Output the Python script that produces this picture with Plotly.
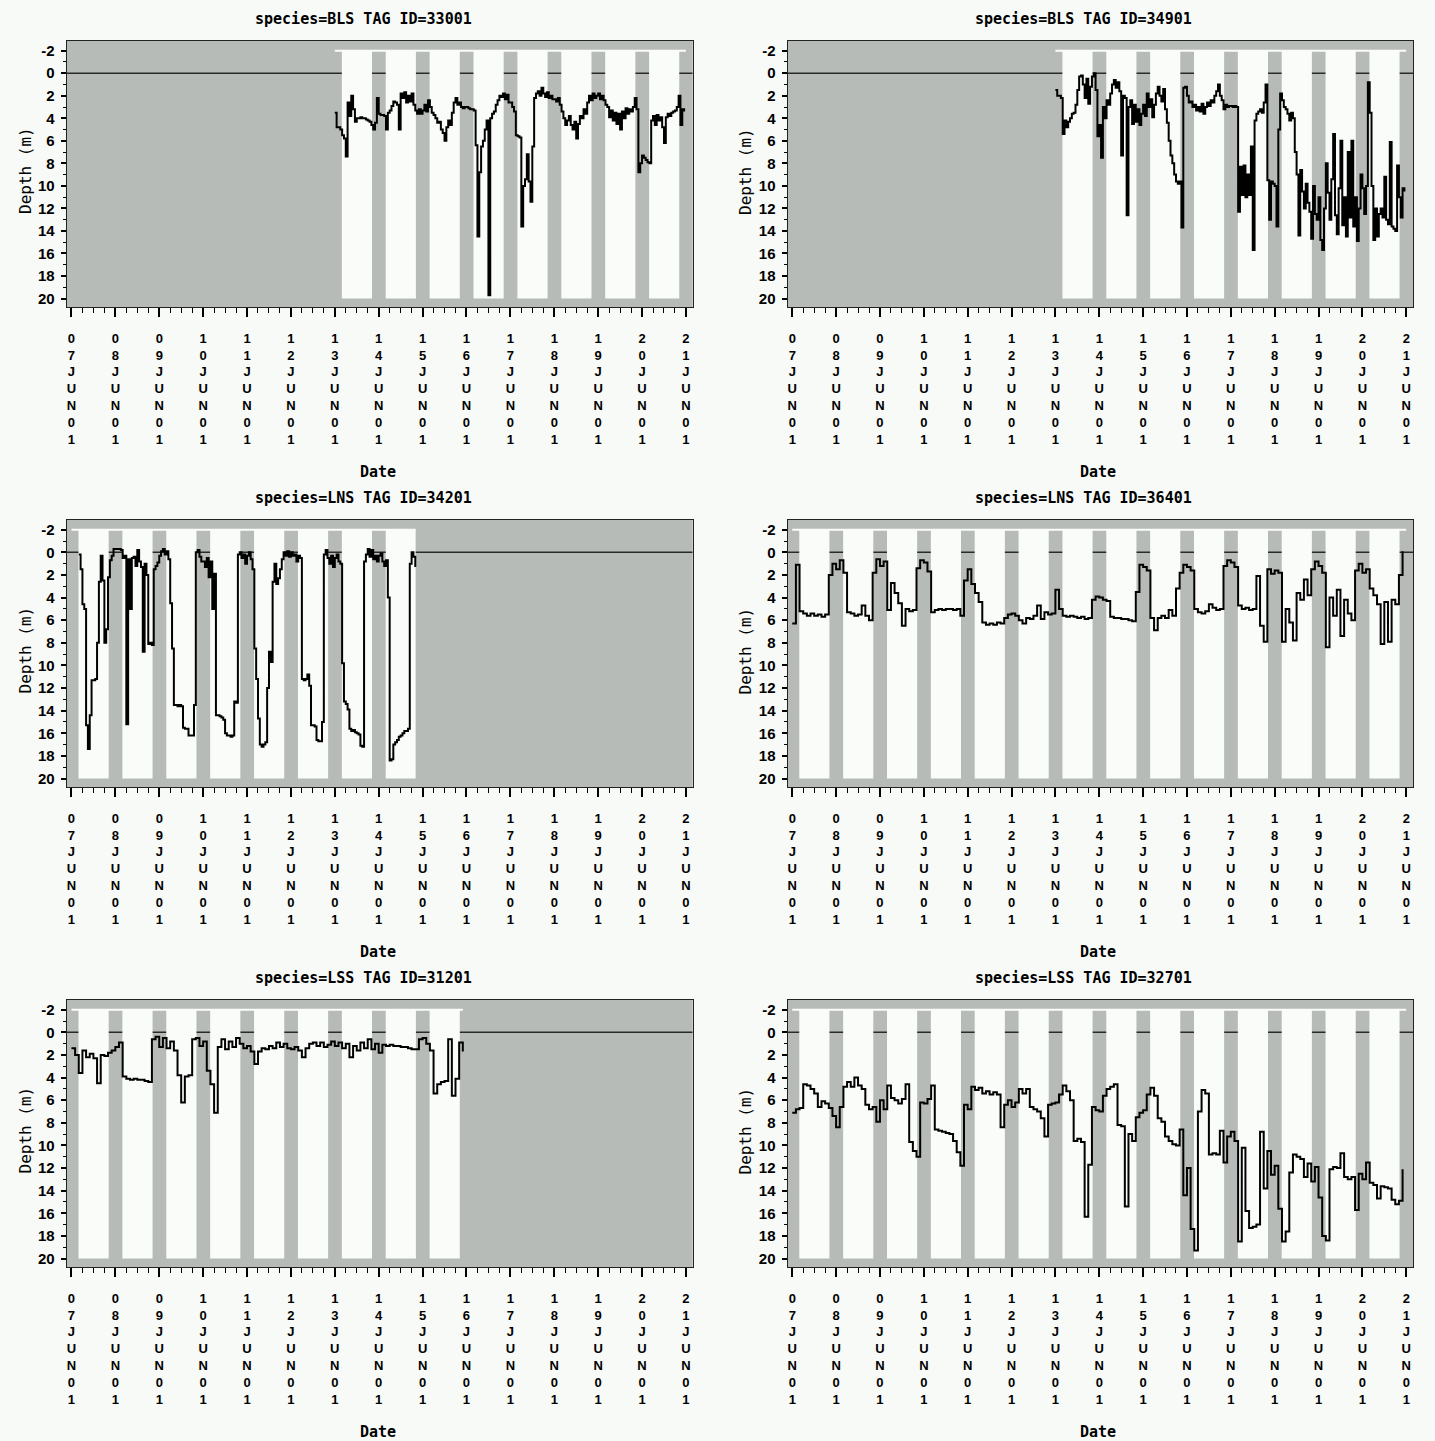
import plotly.graph_objects as go

# ---------------- data ----------------
TITLES = ["species=BLS TAG ID=33001", "species=BLS TAG ID=34901",
          "species=LNS TAG ID=34201", "species=LNS TAG ID=36401",
          "species=LSS TAG ID=31201", "species=LSS TAG ID=32701"]

# hours since 07JUN01 00:00
DATE_TICKS = [0, 24, 48, 72, 96, 120, 144, 168, 192, 216, 240, 264, 288, 312, 336]
DATE_LABELS = ["07JUN01", "08JUN01", "09JUN01", "10JUN01", "11JUN01", "12JUN01", "13JUN01",
               "14JUN01", "15JUN01", "16JUN01", "17JUN01", "18JUN01", "19JUN01", "20JUN01", "21JUN01"]
DEPTH_TICKS = [-2, 0, 2, 4, 6, 8, 10, 12, 14, 16, 18, 20]

# daylight (white) period each day, hours after midnight
DAY_START_H = 3.85
DAY_END_H = 20.35

# tag deployment windows (hours since 07JUN01 00:00)
WIN_33001 = [144, 336]
WIN_34901 = [144, 336]
WIN_34201 = [0, 188.2]
WIN_36401 = [0, 336]
WIN_31201 = [0, 214]
WIN_32701 = [0, 336]

# series: start hour, step (hours), depths (m)
START_33001, STEP_33001 = 144, 1
DEPTH_33001 = [
    3.5, 4.8, 4.8, 5.0, 5.5, 5.8, 7.4, 2.6, 3.8, 2.0, 3.2, 4.3, 4.0, 4.0, 3.9, 4.0, 4.0, 4.1, 4.2, 4.3, 4.6, 5.0, 4.4, 2.2,
    3.6, 3.7, 3.7, 3.8, 5.0, 3.5, 3.3, 2.9, 2.5, 2.6, 2.8, 5.0, 1.8, 2.2, 1.7, 2.6, 2.0, 2.5, 1.8, 2.8, 3.3, 3.6, 3.2, 3.6,
    3.3, 2.8, 3.4, 2.4, 3.0, 3.5, 3.7, 4.0, 4.4, 4.3, 5.0, 5.3, 6.0, 4.8, 4.2, 4.6, 3.5, 2.6, 2.2, 2.8, 2.6, 3.0, 3.1, 3.0,
    3.0, 3.1, 3.2, 3.2, 3.3, 6.4, 14.5, 8.8, 6.5, 6.0, 5.0, 4.2, 19.7, 4.0, 3.6, 3.4, 2.8, 2.4, 2.0, 2.1, 1.8, 2.3, 1.9, 2.6,
    2.6, 3.0, 3.4, 5.5, 5.6, 5.7, 13.6, 10.0, 9.4, 7.2, 9.6, 11.4, 6.5, 2.2, 1.8, 1.6, 2.0, 1.3, 1.8, 2.1, 1.7, 2.2, 2.0, 2.3,
    2.3, 2.5, 2.2, 2.8, 3.4, 4.0, 4.6, 4.2, 3.8, 4.6, 5.0, 4.3, 5.8, 4.5, 3.8, 4.0, 3.2, 3.6, 2.6, 2.0, 2.4, 1.8, 2.2, 2.0,
    1.8, 2.3, 2.0, 2.4, 2.8, 3.0, 3.9, 3.3, 4.2, 3.5, 4.5, 3.6, 5.0, 3.4, 4.0, 3.1, 3.6, 3.2, 3.4, 3.0, 2.2, 3.2, 8.8, 8.0,
    7.3, 7.5, 7.7, 7.9, 8.0, 4.2, 3.8, 4.6, 3.7, 4.2, 3.9, 4.8, 6.2, 3.9, 3.6, 3.8, 3.5, 3.4, 3.3, 3.0, 2.0, 4.6, 3.2, 3.4,
]

START_34901, STEP_34901 = 144, 1
DEPTH_34901 = [
    1.5, 2.0, 2.0, 2.2, 5.4, 4.2, 4.8, 4.3, 4.0, 3.6, 3.5, 2.8, 1.5, 0.3, 0.2, 1.0, 2.2, 0.5, 2.7, 1.2, 0.3, 0.0, 1.5, 5.6,
    4.6, 7.5, 3.0, 4.0, 2.4, 2.8, 1.8, 1.0, 0.6, 1.3, 0.8, 1.6, 7.3, 2.0, 2.2, 12.6, 3.0, 2.4, 4.5, 2.8, 4.3, 3.2, 4.6, 3.6,
    2.8, 3.8, 1.8, 3.0, 2.3, 3.9, 2.8, 1.8, 1.2, 2.0, 2.5, 1.4, 3.2, 4.4, 6.0, 7.3, 8.0, 9.0, 9.6, 9.8, 9.6, 13.7, 1.3, 1.2,
    2.0, 2.6, 2.5, 3.0, 2.8, 3.3, 3.0, 3.4, 2.7, 3.6, 3.0, 2.6, 2.9, 2.4, 2.6, 2.0, 1.6, 1.0, 2.0, 2.4, 3.2, 2.8, 3.0, 2.9,
    2.9, 3.0, 2.9, 3.0, 12.3, 8.3, 10.8, 8.2, 11.0, 9.0, 10.8, 6.5, 15.7, 4.2, 3.6, 3.4, 3.2, 3.5, 2.6, 1.0, 9.5, 13.0, 9.6, 9.8,
    10.0, 13.6, 5.0, 1.8, 2.4, 3.0, 3.2, 3.6, 4.2, 3.5, 4.0, 7.0, 9.0, 14.4, 8.6, 10.5, 12.0, 9.8, 11.5, 12.3, 14.7, 10.0, 12.5, 13.0,
    11.0, 14.8, 15.7, 12.0, 8.0, 10.6, 13.0, 9.4, 5.4, 12.6, 14.3, 10.2, 6.0, 13.5, 11.0, 14.5, 7.0, 12.8, 6.0, 13.6, 11.0, 14.9, 12.0, 9.0,
    10.2, 12.5, 10.0, 0.8, 3.5, 10.0, 14.8, 12.0, 14.5, 12.5, 12.0, 12.8, 9.2, 13.0, 13.4, 6.1, 13.6, 13.8, 14.0, 8.2, 11.0, 12.8, 10.2, 10.5,
]

START_34201, STEP_34201 = 4, 1
DEPTH_34201 = [
    0.2, 1.5, 4.6, 5.0, 15.3, 17.4, 14.4, 11.3, 11.3, 11.2, 8.0, 2.6, 0.3, 2.5, 8.0, 6.8, 2.2, 0.7, 0.3, -0.3,
    -0.3, -0.3, -0.3, -0.2, 0.5, 0.3, 15.2, 0.6, 5.0, 0.5, 0.4, 1.2, -0.2, 0.8, 1.3, 8.8, 1.0, 2.0, 8.1, 8.0, 8.2, 1.5, 1.2, 0.9,
    0.3, -0.1, -0.3, 0.2, -0.1, 0.6, 4.5, 8.5, 13.5, 13.5, 13.6, 13.5, 13.6, 15.5, 15.6, 15.6, 16.2, 16.2, 16.2, 13.5, 0.0, -0.2, 0.4, 0.8,
    0.8, 1.3, 0.5, 2.2, 0.8, 5.0, 1.9, 14.4, 14.4, 14.5, 14.6, 14.8, 16.0, 16.2, 16.2, 16.3, 16.2, 13.2, 13.3, 0.2, 0.0, 0.5, 0.2, 1.0,
    0.3, 0.0, 0.6, 1.5, 8.5, 11.2, 14.7, 17.0, 17.2, 17.0, 16.8, 12.0, 8.8, 9.7, 2.6, 1.0, 2.8, 2.3, 1.5, 0.6, 0.0, 0.3, -0.1, 0.4,
    0.0, 0.3, 0.2, 0.8, 0.3, 0.5, 11.2, 11.3, 11.2, 10.8, 11.8, 15.3, 15.3, 15.4, 16.6, 16.7, 16.7, 15.0, 0.2, -0.2, 0.5, 1.0, 0.3, 1.3,
    0.5, 0.2, 0.8, 1.0, 9.8, 13.2, 13.4, 13.9, 15.6, 15.8, 15.7, 15.9, 16.0, 16.1, 17.1, 17.2, 0.8, 0.2, -0.3, 0.4, -0.2, 0.6, 0.3, 0.8,
    0.3, 0.1, 0.8, 1.2, 0.7, 4.0, 18.4, 18.3, 17.0, 16.8, 16.6, 16.3, 16.2, 16.0, 15.8, 15.8, 15.6, 1.0, 0.0, 0.4, 1.3,
]

START_36401, STEP_36401 = 0, 2
DEPTH_36401 = [
    6.3, 1.1, 5.2, 5.4, 5.6, 5.4, 5.6, 5.5, 5.7, 5.5, 2.0, 1.0,
    1.5, 0.7, 1.8, 5.3, 5.4, 5.6, 5.5, 4.7, 5.6, 6.0, 1.8, 0.6,
    1.2, 0.8, 5.1, 2.7, 3.6, 4.5, 6.5, 5.0, 5.2, 5.1, 1.4, 0.7,
    0.9, 1.7, 5.3, 5.1, 5.0, 5.1, 5.0, 5.0, 5.1, 5.0, 5.6, 2.5,
    1.5, 2.8, 3.6, 4.4, 6.2, 6.4, 6.3, 6.4, 6.2, 6.3, 5.8, 5.5,
    5.4, 5.6, 6.0, 6.3, 5.8, 5.9, 5.6, 4.7, 5.9, 5.3, 5.5, 5.4,
    3.3, 5.0, 5.6, 5.7, 5.6, 5.7, 5.8, 5.7, 5.9, 5.8, 4.2, 3.9,
    4.0, 4.2, 4.3, 5.7, 5.8, 5.8, 5.9, 5.9, 6.0, 6.1, 3.5, 1.1,
    1.3, 1.6, 5.8, 6.9, 5.8, 5.6, 5.8, 5.1, 5.6, 3.2, 1.8, 1.1,
    1.3, 1.6, 5.0, 5.3, 5.4, 5.2, 4.6, 4.9, 5.1, 5.0, 1.2, 0.7,
    0.9, 1.3, 4.7, 5.0, 4.9, 5.1, 5.0, 2.1, 6.5, 7.9, 1.5, 1.9,
    1.6, 1.8, 7.9, 5.0, 6.2, 7.8, 3.6, 4.2, 2.4, 3.8, 1.5, 0.8,
    1.2, 1.8, 8.4, 4.0, 5.6, 3.3, 7.4, 4.2, 5.4, 6.0, 1.6, 1.0,
    1.8, 1.5, 3.2, 3.8, 4.6, 8.1, 4.4, 7.9, 4.2, 4.6, 2.0, -0.1,
]

START_31201, STEP_31201 = 0, 2
DEPTH_31201 = [
    1.4, 2.0, 3.6, 1.6, 2.2, 1.9, 2.3, 4.5, 2.0, 2.1, 1.8, 1.6,
    1.3, 0.9, 3.9, 4.1, 4.2, 4.1, 4.2, 4.2, 4.3, 4.4, 0.6, 0.4,
    1.3, 0.5, 1.4, 0.8, 1.6, 3.8, 6.2, 3.9, 3.8, 0.6, 0.5, 1.2,
    0.8, 3.4, 4.6, 7.1, 1.3, 0.6, 1.5, 0.8, 1.3, 0.5, 1.0, 1.4,
    1.2, 1.7, 2.8, 1.7, 1.4, 1.5, 1.2, 1.4, 0.9, 1.3, 1.0, 1.4,
    1.5, 1.3, 1.6, 2.2, 1.4, 1.0, 0.9, 1.2, 0.9, 1.3, 1.1, 0.8,
    1.2, 0.9, 1.4, 1.0, 2.2, 1.2, 1.6, 0.9, 1.4, 0.6, 1.5, 1.0,
    1.8, 1.1, 1.2, 1.1, 1.2, 1.2, 1.3, 1.3, 1.4, 1.5, 1.5, 0.6,
    0.5, 1.0, 1.6, 5.4, 4.6, 4.4, 4.3, 0.6, 5.6, 4.1, 0.9, 1.7,
]

START_32701, STEP_32701 = 0, 2
DEPTH_32701 = [
    7.1, 6.8, 6.7, 4.6, 4.7, 5.0, 5.4, 6.6, 6.1, 6.3, 6.7, 7.4,
    8.4, 6.6, 4.8, 4.4, 4.8, 4.0, 4.7, 5.0, 6.4, 6.8, 6.6, 7.9,
    6.0, 6.8, 4.7, 5.8, 6.0, 6.3, 5.9, 4.6, 9.7, 10.5, 11.0, 6.2,
    6.3, 5.9, 4.7, 8.6, 8.7, 8.8, 8.9, 9.0, 9.6, 10.6, 11.8, 6.4,
    6.8, 4.8, 5.1, 4.9, 5.4, 5.2, 5.5, 5.3, 5.5, 8.4, 6.4, 6.0,
    6.6, 6.2, 5.0, 5.4, 5.0, 6.6, 6.8, 7.0, 7.6, 9.2, 6.4, 6.3,
    6.2, 5.5, 4.7, 5.2, 6.0, 9.6, 9.4, 9.7, 16.3, 11.7, 6.6, 6.9,
    7.0, 5.6, 5.0, 4.8, 4.6, 8.2, 8.3, 15.4, 9.0, 9.6, 7.5, 7.1,
    6.9, 5.5, 4.9, 5.6, 7.6, 7.9, 9.2, 9.6, 9.9, 10.0, 8.6, 14.4,
    12.0, 17.4, 19.3, 7.0, 5.1, 5.4, 10.8, 10.7, 10.8, 8.7, 11.5, 9.2,
    8.8, 9.6, 18.5, 10.2, 15.8, 17.3, 17.2, 17.0, 8.8, 13.8, 10.5, 12.6,
    11.8, 15.6, 18.5, 17.6, 12.4, 10.8, 11.0, 11.2, 12.8, 11.6, 13.2, 11.9,
    14.6, 18.0, 18.4, 12.1, 11.9, 12.0, 10.7, 12.8, 13.0, 12.8, 15.7, 12.5,
    13.0, 11.5, 13.3, 13.5, 14.7, 13.6, 13.7, 13.8, 14.8, 15.2, 14.9, 12.1,
]

PANELS = [
    (START_33001, STEP_33001, DEPTH_33001, WIN_33001),
    (START_34901, STEP_34901, DEPTH_34901, WIN_34901),
    (START_34201, STEP_34201, DEPTH_34201, WIN_34201),
    (START_36401, STEP_36401, DEPTH_36401, WIN_36401),
    (START_31201, STEP_31201, DEPTH_31201, WIN_31201),
    (START_32701, STEP_32701, DEPTH_32701, WIN_32701),
]

# ---------------- layout ----------------
W, H = 1435, 1441
X_RANGE = [-2.6, 339.7]
Y_RANGE = [20.75, -2.86]
COL_PX = [(66.7, 692.7), (787.5, 1413.0)]
ROW_PX = [(41, 307), (520, 787), (1000, 1267)]
TITLE_X_PX = [363, 1083]
DATE_X_PX = [378, 1098]
DEPTH_X_PX = [25, 745]

PAGE_BG = "#f7faf7"
DAY_BG = "#fafcfa"
NIGHT_BG = "#b7bbb7"

fig = go.Figure()
layout = dict(
    width=W, height=H, margin=dict(l=0, r=0, t=0, b=0),
    paper_bgcolor=PAGE_BG, plot_bgcolor=NIGHT_BG, showlegend=False,
)
shapes = []
annotations = []

xtext = ["<br>".join(list(s)) for s in DATE_LABELS]
ytext = [str(v) for v in DEPTH_TICKS]

for i, (start, step, depth, win) in enumerate(PANELS):
    r, c = divmod(i, 2)
    n = "" if i == 0 else str(i + 1)
    xa, ya = "x" + n, "y" + n
    x0p, x1p = COL_PX[c]
    y0p, y1p = ROW_PX[r]
    hours = [start + step * k for k in range(len(depth))]

    fig.add_trace(go.Scatter(
        x=hours, y=depth, mode="lines", xaxis=xa, yaxis=ya,
        line=dict(color="black", width=2, shape="hv"), hoverinfo="skip",
    ))

    layout["xaxis" + n] = dict(
        domain=[x0p / W, x1p / W], anchor=ya, range=X_RANGE,
        tickmode="array", tickvals=DATE_TICKS, ticktext=xtext,
        ticks="outside", ticklen=9, tickwidth=1.5, tickcolor="black",
        minor=dict(tickmode="linear", tick0=0, dtick=6, ticks="outside",
                   ticklen=5, tickwidth=1, tickcolor="black"),
        showline=True, mirror=True, linecolor="#222", linewidth=1,
        showgrid=False, zeroline=False, ticklabelstandoff=10,
        tickfont=dict(family="Liberation Sans", size=13, color="black", weight="bold"),
    )
    layout["yaxis" + n] = dict(
        domain=[1 - y1p / H, 1 - y0p / H], anchor=xa, range=Y_RANGE,
        tickmode="array", tickvals=DEPTH_TICKS, ticktext=ytext,
        ticks="outside", ticklen=5, tickwidth=1.5, tickcolor="black",
        minor=dict(tickmode="linear", tick0=0, dtick=1, ticks="outside",
                   ticklen=3, tickwidth=1, tickcolor="black"),
        showline=True, mirror=True, linecolor="#222", linewidth=1,
        showgrid=False, zeroline=False, ticklabelstandoff=3,
        tickfont=dict(family="Liberation Sans", size=15, color="black", weight="bold"),
    )

    # reference line at 0 (hidden by daylight bands)
    shapes.append(dict(type="line", xref=xa, yref=ya, x0=X_RANGE[0], x1=X_RANGE[1],
                       y0=0, y1=0, layer="below", line=dict(color="#2a2a2a", width=1.5)))
    # daylight bands
    for d in range(15):
        a = max(24 * d + DAY_START_H, win[0])
        b = min(24 * d + DAY_END_H, win[1])
        if b > a:
            shapes.append(dict(type="rect", xref=xa, yref=ya, x0=a, x1=b, y0=-2, y1=20,
                               layer="below", line=dict(width=0), fillcolor=DAY_BG))
    shapes.append(dict(type="line", xref=xa, yref=ya, x0=win[0], x1=win[1], y0=-2, y1=-2,
                       layer="below", line=dict(color=DAY_BG, width=2)))

    # texts
    annotations.append(dict(text=TITLES[i], xref="paper", yref="paper",
                            x=TITLE_X_PX[c] / W, y=1 - (y0p - 22) / H,
                            xanchor="center", yanchor="middle", showarrow=False,
                            font=dict(family="DejaVu Sans Mono", size=15, color="black", weight="bold")))
    annotations.append(dict(text="Date", xref="paper", yref="paper",
                            x=DATE_X_PX[c] / W, y=1 - (y1p + 165) / H,
                            xanchor="center", yanchor="middle", showarrow=False,
                            font=dict(family="DejaVu Sans Mono", size=15, color="black", weight="bold")))
    annotations.append(dict(text="Depth (m)", xref="paper", yref="paper",
                            x=DEPTH_X_PX[c] / W, y=1 - ((y0p + y1p) / 2 - 3) / H,
                            xanchor="center", yanchor="middle", showarrow=False, textangle=-90,
                            font=dict(family="DejaVu Sans Mono", size=16, color="black")))

layout["shapes"] = shapes
layout["annotations"] = annotations
fig.update_layout(**layout)
fig.write_html("out.html")
